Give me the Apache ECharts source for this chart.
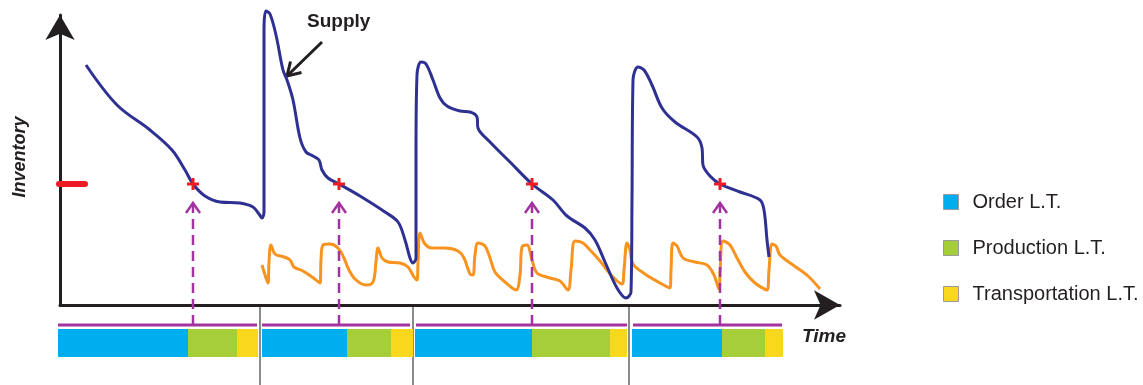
<!DOCTYPE html>
<html><head><meta charset="utf-8">
<script src="https://cdn.jsdelivr.net/npm/echarts@6/dist/echarts.min.js"></script>
<style>html,body{margin:0;padding:0;background:#fff}#c{width:1143px;height:385px}</style>
</head><body><div id="c"></div>
<script>
// ---- data (time units, inventory units) ----
const supply = [[26,240],[57,200],[90,175],[112,155],[125,135],[133,121],[145,109],[160,103],[180,102],[193,98],[199,91],[202,87],[204,93],[204,185],[204,275],[206,294],[210,291],[216,270],[223,235],[227,225],[233,205],[240,167],[246,153],[253,149],[259,145],[262,135],[268,127],[279,121],[300,109],[325,93],[338,83],[345,65],[350,47],[353,42],[356,47],[356,155],[357,230],[361,243],[366,241],[373,225],[380,207],[387,199],[400,194],[410,193],[417,188],[418,177],[430,163],[450,143],[472,121],[493,105],[507,89],[525,77],[535,65],[545,43],[557,17],[566,7],[571,13],[572,105],[573,225],[578,238],[584,235],[592,220],[602,197],[615,183],[637,168],[642,157],[643,140],[650,129],[660,121],[680,113],[700,105],[704,95],[707,65],[709,48]];
const demand = [[202,40],[206,27],[208,22],[209,43],[211,60],[215,51],[224,48],[230,45],[234,38],[243,34],[252,28],[260,22],[261,45],[263,60],[270,61],[278,57],[284,47],[288,37],[295,26],[306,20],[313,23],[316,43],[318,57],[322,47],[328,43],[340,42],[348,38],[354,28],[357,25],[358,43],[360,72],[365,61],[372,57],[385,57],[398,54],[404,47],[410,31],[413,30],[415,50],[418,62],[425,59],[430,47],[435,33],[445,23],[456,15],[460,30],[462,58],[467,60],[472,45],[477,32],[490,27],[500,24],[508,15],[511,35],[515,64],[523,62],[530,55],[540,44],[552,29],[562,21],[564,35],[567,62],[570,55],[573,41],[585,31],[600,22],[610,17],[611,35],[613,62],[617,59],[623,47],[635,43],[647,40],[654,30],[659,16],[660,30],[663,64],[670,60],[677,47],[685,33],[695,22],[707,15],[709,35],[712,61],[716,59],[720,50],[733,40],[748,29],[760,16]];
const reorderLevel = 121;
const reorderPoints = [[133,121],[279,121],[472,121],[660,121]];
const cycles = [[-2,197],[202,350],[356,567],[573,722]];
const cycleBreaks = [200,353,569];
const orderLT = [[-2,128],[202,287],[355,472],[572,662]];
const productionLT = [[128,177],[287,331],[472,550],[662,705]];
const transportLT = [[177,198],[331,353],[550,567],[705,723]];
const legendNames = ['Order L.T.','Production L.T.','Transportation L.T.'];

// ---- styles ----
const C = {axis:'#231f20', supply:'#2e3192', demand:'#f7931e', red:'#ed1c24', purple:'#a3339e',
  order:'#00aeef', prod:'#a6ce39', trans:'#f9d71c', gray:'#8c8c8c'};
const FONT = '"Liberation Sans", Arial, sans-serif';
const BAR_TOP = -24, BAR_BOT = -52, LINE_Y = -20, ARROW_TOP = 102;

function barSeries(name, data, color){
  return {type:'custom', name, data, itemStyle:{color},
    renderItem(params, api){
      const a = api.coord([api.value(0), BAR_TOP]);
      const b = api.coord([api.value(1), BAR_BOT]);
      return {type:'rect', shape:{x:a[0], y:a[1], width:b[0]-a[0], height:b[1]-a[1]}, style:{fill:color}};
    }};
}

const chart = echarts.init(document.getElementById('c'), null, {renderer:'canvas'});
chart.setOption({
  animation:false,
  grid:{left:60, top:15, right:303, bottom:80},
  xAxis:{type:'value', min:0, max:780, axisLabel:{show:false}, axisTick:{show:false}, splitLine:{show:false},
    axisLine:{lineStyle:{color:C.axis, width:3}, symbol:['none','arrow'], symbolSize:[22,26]}},
  yAxis:{type:'value', min:0, max:290, axisLabel:{show:false}, axisTick:{show:false}, splitLine:{show:false},
    axisLine:{lineStyle:{color:C.axis, width:3}, symbol:['none','arrow'], symbolSize:[22,25]}},
  legend:{orient:'vertical', left:943, top:192, padding:0, itemWidth:15, itemHeight:15, itemGap:26, icon:'rect',
    data:legendNames.map((n,i)=>({name:n, itemStyle:{borderColor:'#9a9a9a', borderWidth:1}})),
    textStyle:{fontFamily:FONT, fontSize:20, color:'#231f20', padding:[0,0,0,9], lineHeight:20}},
  graphic:[
    {type:'text', left:307, top:12, style:{text:'Supply', font:'bold 19px '+FONT, fill:'#231f20'}},
    {type:'line', shape:{x1:322, y1:42, x2:288, y2:75}, style:{stroke:'#231f20', lineWidth:3}},
    {type:'polyline', shape:{points:[[290.5,61.5],[287,76],[301.5,72.5]]}, style:{stroke:'#231f20', lineWidth:3, fill:null}},
    {type:'text', left:802, top:327, style:{text:'Time', font:'italic bold 19px '+FONT, fill:'#231f20'}},
    {type:'text', x:20, y:157, rotation:Math.PI/2, style:{text:'Inventory', font:'italic bold 18px '+FONT, fill:'#231f20', align:'center', verticalAlign:'middle'}}
  ],
  series:[
    {type:'custom', silent:true, data:cycleBreaks.map(v=>[v]),
      renderItem(p, api){ const a = api.coord([api.value(0), -2]); const b = api.coord([api.value(0), -80]);
        return {type:'line', shape:{x1:a[0], y1:a[1], x2:b[0], y2:b[1]}, style:{stroke:C.gray, lineWidth:2}}; }},
    barSeries(legendNames[0], orderLT, C.order),
    barSeries(legendNames[1], productionLT, C.prod),
    barSeries(legendNames[2], transportLT, C.trans),
    {type:'custom', silent:true, data:cycles,
      renderItem(p, api){ const a = api.coord([api.value(0), LINE_Y]); const b = api.coord([api.value(1), LINE_Y]);
        return {type:'line', shape:{x1:a[0], y1:a[1], x2:b[0], y2:b[1]}, style:{stroke:C.purple, lineWidth:3}}; }},
    {type:'line', data:demand, smooth:0.35, showSymbol:false, clip:false, silent:true,
      lineStyle:{color:C.demand, width:3}},
    {type:'line', data:supply, smooth:0.35, showSymbol:false, clip:false, silent:true,
      lineStyle:{color:C.supply, width:3}},
    {type:'custom', silent:true, data:reorderPoints, z:5,
      renderItem(p, api){ const x = api.coord([api.value(0), LINE_Y]); const t = api.coord([api.value(0), ARROW_TOP]);
        return {type:'group', children:[
          {type:'line', shape:{x1:x[0], y1:x[1], x2:t[0], y2:t[1]}, style:{stroke:C.purple, lineWidth:2.5, lineDash:[10,6]}},
          {type:'polyline', shape:{points:[[t[0]-7,t[1]+10],[t[0],t[1]],[t[0]+7,t[1]+10]]}, style:{stroke:C.purple, lineWidth:2.5, fill:null}}
        ]}; }},
    {type:'custom', silent:true, data:reorderPoints, z:6,
      renderItem(p, api){ const c = api.coord([api.value(0), api.value(1)]);
        return {type:'group', children:[
          {type:'line', shape:{x1:c[0]-6, y1:c[1], x2:c[0]+6, y2:c[1]}, style:{stroke:C.red, lineWidth:3}},
          {type:'line', shape:{x1:c[0], y1:c[1]-6, x2:c[0], y2:c[1]+6}, style:{stroke:C.red, lineWidth:3}}
        ]}; }},
    {type:'custom', silent:true, data:[[reorderLevel]], z:6,
      renderItem(p, api){ const a = api.coord([-1, api.value(0)]); const b = api.coord([25, api.value(0)]);
        return {type:'line', shape:{x1:a[0], y1:a[1], x2:b[0], y2:b[1]}, style:{stroke:C.red, lineWidth:6, lineCap:'round'}}; }}
  ]
});
</script></body></html>
